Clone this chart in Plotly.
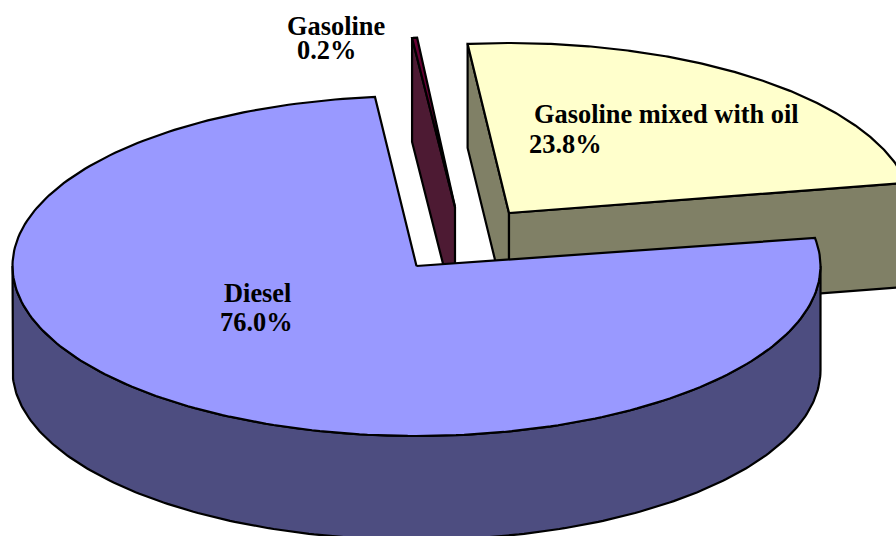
"""
Exploded 3D-look pie of fuel shares, drawn as filled scatter outlines.
"""

import numpy as np
import plotly.graph_objects as go

SLICES = ["Diesel", "Gasoline", "Gasoline mixed with oil"]
SHARES = [76.0, 0.2, 23.8]

TOP_COLORS = ["#9999FF", "#660033", "#FFFFCC"]
SIDE_COLORS = ["#4D4D80", "#4D1A33", "#808066"]

# pixel layout of the pie
RX, RY, DEPTH = 404, 170, 104
START_DEG = 80.5
CENTERS = [(416.5, 266), (455, 207), (509, 213)]
# small per-slice rotation, the exploded slices sit slightly off in the picture
NUDGE_DEG = [0.0, -0.2, -0.7]

FONT = "Liberation Serif"
OUTLINE = dict(color="black", width=2.2)


def ellipse_xy(center, start, end, drop=0.0, n=240):
    """Points on the pie rim, angles clockwise from 12 o'clock."""
    a = np.radians(np.linspace(start, end, n))
    return center[0] + RX * np.sin(a), center[1] - RY * np.cos(a) + drop


def add_poly(fig, xs, ys, color):
    fig.add_trace(
        go.Scatter(
            x=list(xs),
            y=list(ys),
            mode="lines",
            fill="toself",
            fillcolor=color,
            line=OUTLINE,
            hoverinfo="skip",
            showlegend=False,
        )
    )


def add_wall(fig, center, angle, color):
    cx, cy = center
    x, y = ellipse_xy(center, angle, angle, n=1)
    add_poly(
        fig,
        [cx, x[0], x[0], cx, cx],
        [cy, y[0], y[0] + DEPTH, cy + DEPTH, cy],
        color,
    )


def add_wedge(fig, center, start, end, top, side):
    cx, cy = center
    # a cut face only shows when it turns towards the viewer
    if np.sin(np.radians(start)) < 0:
        add_wall(fig, center, start, side)
    if np.sin(np.radians(end)) > 0:
        add_wall(fig, center, end, side)
    # outer rim, front half only
    lo, hi = max(start, 90), min(end, 270)
    if lo < hi:
        ax, ay = ellipse_xy(center, lo, hi)
        bx, by = ellipse_xy(center, hi, lo, drop=DEPTH)
        add_poly(fig, np.r_[ax, bx, ax[0]], np.r_[ay, by, ay[0]], side)
    # top face
    ex, ey = ellipse_xy(center, start, end)
    add_poly(fig, np.r_[cx, ex, cx], np.r_[cy, ey, cy], top)


# angle range of each slice, clockwise from the diesel/oil boundary
bounds = []
angle = START_DEG
for share, nudge in zip(SHARES, NUDGE_DEG):
    sweep = share / sum(SHARES) * 360
    bounds.append((angle + nudge, angle + sweep + nudge))
    angle += sweep

fig = go.Figure()

# back to front
for i in (2, 1, 0):
    add_wedge(fig, CENTERS[i], *bounds[i], TOP_COLORS[i], SIDE_COLORS[i])

labels = [
    (SLICES[1], 284.5, 26),
    (f"{SHARES[1]:.1f}%", 294.5, 50),
    (SLICES[2], 531.5, 114),
    (f"{SHARES[2]:.1f}%", 526.5, 144),
    (SLICES[0], 221.5, 293),
    (f"{SHARES[0]:.1f}%", 217.5, 322),
]
for text, x, y in labels:
    fig.add_annotation(
        x=x,
        y=y,
        text=f"<b>{text}</b>",
        showarrow=False,
        xanchor="left",
        yanchor="middle",
        font=dict(family=FONT, size=26.4, color="black"),
    )

fig.update_layout(
    width=896,
    height=536,
    margin=dict(l=0, r=0, t=0, b=0),
    paper_bgcolor="white",
    plot_bgcolor="white",
    showlegend=False,
    xaxis=dict(range=[0, 896], visible=False, fixedrange=True),
    yaxis=dict(range=[536, 0], visible=False, fixedrange=True),
)

fig.write_html(
    "out.html",
    config={"displayModeBar": False},
    post_script="document.body.style.margin = '0';",
)
